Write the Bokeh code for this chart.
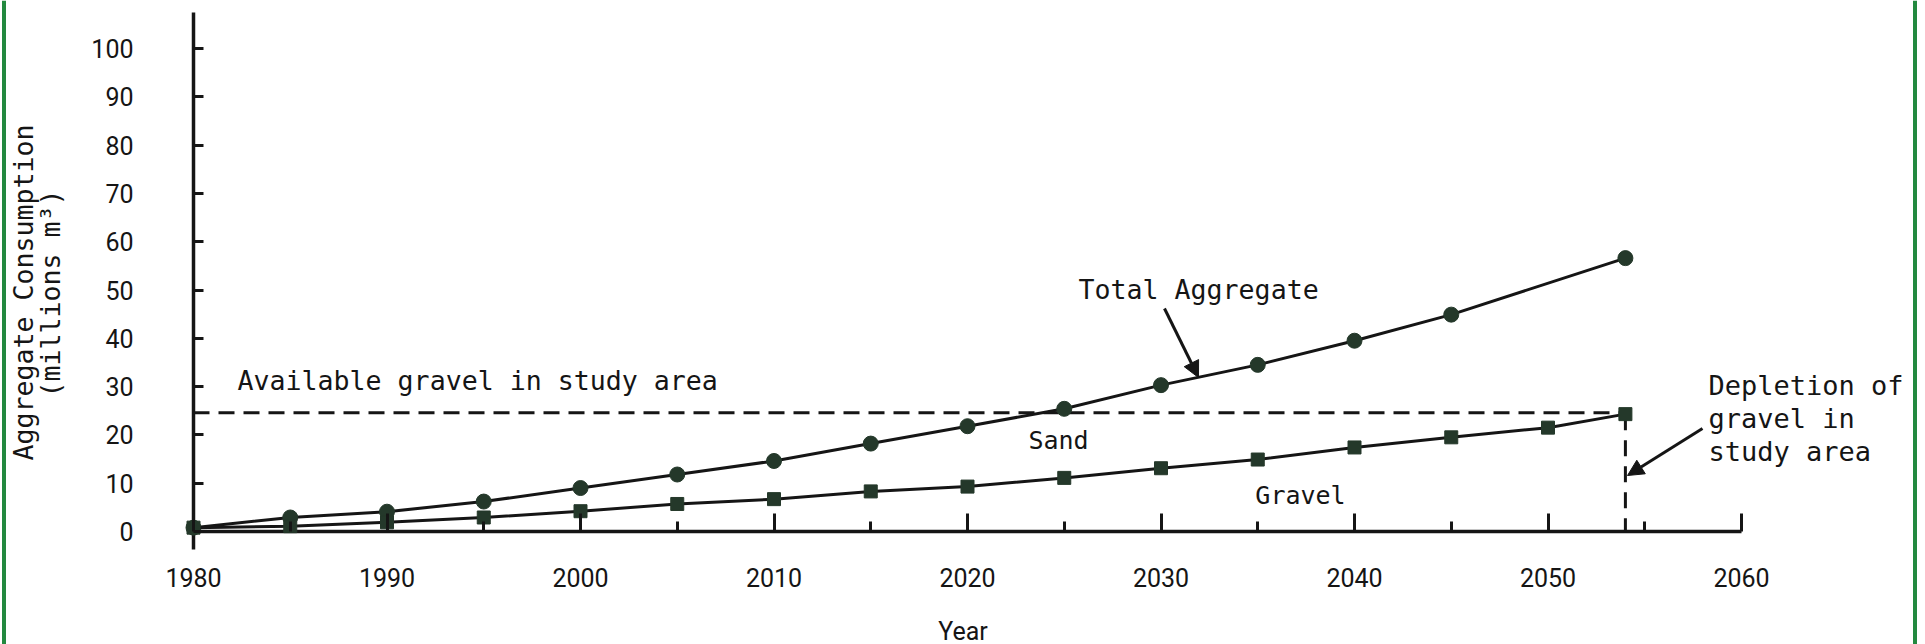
import numpy as np
from bokeh.plotting import figure
from bokeh.models import Range1d, FixedTicker, Arrow, NormalHead
from bokeh.core.properties import value
from bokeh.embed import file_html
from bokeh.resources import INLINE

# ---------------- data ----------------
years_total = [1980, 1985, 1990, 1995, 2000, 2005, 2010, 2015, 2020, 2025, 2030, 2035, 2040, 2045, 2054]
total_aggregate = [0.8, 2.9, 4.1, 6.2, 9.0, 11.8, 14.6, 18.2, 21.8, 25.4, 30.3, 34.5, 39.5, 44.9, 56.6]

years_gravel = [1980, 1985, 1990, 1995, 2000, 2005, 2010, 2015, 2020, 2025, 2030, 2035, 2040, 2045, 2050, 2054]
gravel = [0.8, 1.1, 1.9, 2.9, 4.2, 5.7, 6.7, 8.3, 9.3, 11.1, 13.1, 14.9, 17.4, 19.5, 21.5, 24.3]

available_gravel = 24.6
depletion_year = 2054

x_major = [1980, 1990, 2000, 2010, 2020, 2030, 2040, 2050, 2060]
x_minor = [1985, 1995, 2005, 2015, 2025, 2035, 2045, 2055]
y_ticks = [0, 10, 20, 30, 40, 50, 60, 70, 80, 90, 100]

# ---------------- layout ----------------
W, H = 1925, 644
PX_YR = 19.35      # pixels per year
X_ORIGIN_PX = 193  # pixel of 1980
PX_UNIT = 4.83     # pixels per million m3
Y_ORIGIN_PX = 531  # pixel (from top) of 0

x0 = 1980 - X_ORIGIN_PX / PX_YR
x1 = x0 + W / PX_YR
y1 = Y_ORIGIN_PX / PX_UNIT
y0 = -(H - Y_ORIGIN_PX) / PX_UNIT


def dx(px):
    return x0 + px / PX_YR


def dy(py):
    return y1 - py / PX_UNIT


INK = "#151515"
MARK = "#24382a"
MONO = "DejaVu Sans Mono"
SANS = "Roboto"
ANN = "26.6px"

p = figure(width=W, height=H, x_range=Range1d(x0, x1), y_range=Range1d(y0, y1),
           output_backend="svg", toolbar_location=None, min_border=0,
           background_fill_color="white", border_fill_color="white")
p.outline_line_color = None
p.grid.visible = False

# x axis (library axis, fixed at y = 0)
xa = p.xaxis[0]
xa.fixed_location = 0
xa.ticker = FixedTicker(ticks=x_major, minor_ticks=x_minor)
xa.axis_line_color = None
xa.major_tick_in = 18
xa.major_tick_out = 0
xa.minor_tick_in = 10
xa.minor_tick_out = 0
xa.major_tick_line_width = 3
xa.minor_tick_line_width = 3
xa.major_tick_line_color = INK
xa.minor_tick_line_color = INK
xa.major_label_text_font = SANS
xa.major_label_text_font_size = "25px"
xa.major_label_text_color = INK
xa.major_label_standoff = 36
xa.axis_label = "Year"
xa.axis_label_text_font = SANS
xa.axis_label_text_font_size = "25px"
xa.axis_label_text_font_style = "normal"
xa.axis_label_text_color = INK
xa.axis_label_standoff = 27

# y axis (library axis, fixed at x = 1980)
ya = p.yaxis[0]
ya.fixed_location = 1980
ya.ticker = FixedTicker(ticks=y_ticks)
ya.axis_line_color = None
ya.major_tick_in = 10
ya.major_tick_out = 0
ya.minor_tick_line_color = None
ya.major_tick_line_width = 3
ya.major_tick_line_color = INK
ya.major_label_text_font = SANS
ya.major_label_text_font_size = "25px"
ya.major_label_text_color = INK
ya.major_label_standoff = 60

# axis lines
p.line([x_major[0], x_major[-1]], [0, 0], line_color=INK, line_width=3.5)
p.line([1980, 1980], [dy(549), dy(12)], line_color=INK, line_width=3.5)

# green page borders
p.line([dx(3.5), dx(3.5)], [y0, y1], line_color="#23893f", line_width=4)
p.line([dx(1914.5), dx(1914.5)], [y0, y1], line_color="#23893f", line_width=4)

# available gravel (dashed) and depletion line
p.line([1980, depletion_year], [available_gravel, available_gravel],
       line_color=INK, line_width=3, line_dash="16 9")
p.line([depletion_year, depletion_year], [gravel[-1], 0],
       line_color=INK, line_width=3, line_dash="16 10")

# series
p.line(years_total, total_aggregate, line_color=INK, line_width=3)
p.scatter(years_total, total_aggregate, marker="circle", size=15,
          fill_color=MARK, line_color=MARK)
p.line(years_gravel, gravel, line_color=INK, line_width=3)
p.scatter(years_gravel, gravel, marker="square", size=13,
          fill_color=MARK, line_color=MARK)

# y axis title (two rotated lines)
p.text(x=[dx(23), dx(50)], y=[dy(292), dy(293)],
       text=["Aggregate Consumption", "(millions m³)"],
       angle=np.pi / 2, text_font=value(MONO), text_font_size=value(ANN),
       text_align="center", text_baseline="middle", text_color=INK)

# annotations
p.text(x=[dx(237)], y=[dy(380)], text=["Available gravel in study area"],
       text_font=value(MONO), text_font_size=value(ANN),
       text_align="left", text_baseline="middle", text_color=INK)
p.text(x=[dx(1078)], y=[dy(289)], text=["Total Aggregate"],
       text_font=value(MONO), text_font_size=value(ANN),
       text_align="left", text_baseline="middle", text_color=INK)
p.text(x=[dx(1058), dx(1300)], y=[dy(440), dy(495)], text=["Sand", "Gravel"],
       text_font=value(MONO), text_font_size=value("25px"),
       text_align="center", text_baseline="middle", text_color=INK)
p.text(x=[dx(1708)] * 3, y=[dy(385), dy(418), dy(451)],
       text=["Depletion of", "gravel in", "study area"],
       text_font=value(MONO), text_font_size=value("27px"),
       text_align="left", text_baseline="middle", text_color=INK)

p.add_layout(Arrow(end=NormalHead(size=16, fill_color=INK, line_color=INK),
                   x_start=dx(1164), y_start=dy(308), x_end=dx(1198), y_end=dy(377),
                   line_color=INK, line_width=3))
p.add_layout(Arrow(end=NormalHead(size=16, fill_color=INK, line_color=INK),
                   x_start=dx(1702), y_start=dy(428), x_end=dx(1627), y_end=dy(475),
                   line_color=INK, line_width=3))

open("out.html", "w").write(file_html(p, INLINE))
